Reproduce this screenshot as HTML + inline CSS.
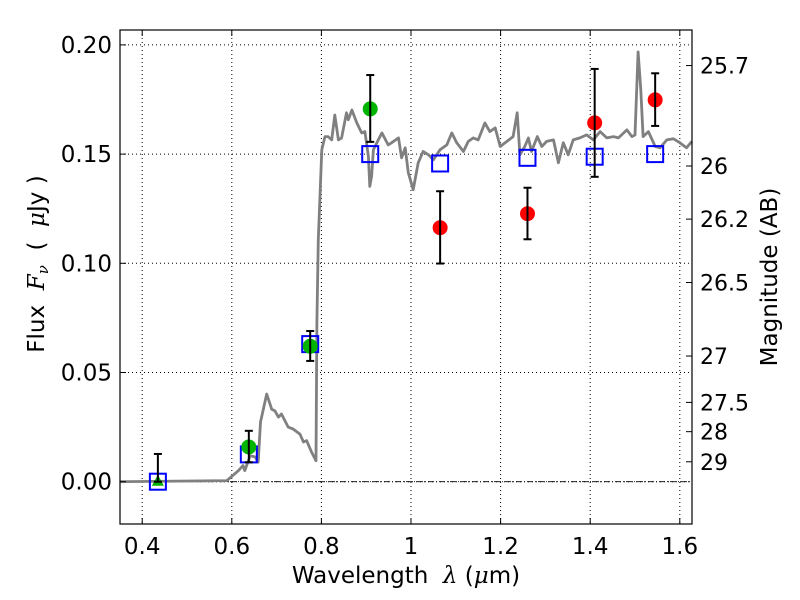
<!DOCTYPE html>
<html><head><meta charset="utf-8"><style>
html,body{margin:0;padding:0;background:#fff;width:800px;height:600px;overflow:hidden}
svg{display:block;font-family:"DejaVu Sans","Liberation Sans",sans-serif}
</style></head><body>
<svg id="chart" width="800" height="600" viewBox="0 0 800 600" xmlns="http://www.w3.org/2000/svg">
<rect x="0" y="0" width="800" height="600" fill="#fff"/>
<g id="grid"></g>
<g id="plot"></g>
<rect x="120" y="30" width="572" height="494" fill="none" stroke="#000" stroke-width="1.2"/>
<g id="axes"></g>
<text x="406" y="583" font-size="23" text-anchor="middle">Wavelength&#160;&#160;<tspan font-style="italic" font-family="DejaVu Serif,serif">λ</tspan>&#160;(<tspan font-style="italic" font-family="DejaVu Serif,serif">μ</tspan>m)</text>
<text transform="translate(44,264) rotate(-90)" font-size="23" text-anchor="middle">Flux&#160;&#160;<tspan font-style="italic" font-family="DejaVu Serif,serif">F<tspan font-size="15" dy="4">ν</tspan></tspan><tspan dy="-4">&#160;&#160;(&#160;&#160;</tspan><tspan font-style="italic" font-family="DejaVu Serif,serif">μ</tspan>Jy&#160;)</text>
<text transform="translate(777,277) rotate(-90)" font-size="23" text-anchor="middle">Magnitude (AB)</text>
</svg>
<script>
const xTicks=[0.4,0.6,0.8,1,1.2,1.4,1.6];
const xTickLabels=["0.4","0.6","0.8","1","1.2","1.4","1.6"];
const yTicks=[0,0.05,0.10,0.15,0.20];
const yTickLabels=["0.00","0.05","0.10","0.15","0.20"];
const magTicks=[25.7,26,26.2,26.5,27,27.5,28,29];
const magTickLabels=["25.7","26","26.2","26.5","27","27.5","28","29"];
const specWave=[0.350,0.589,0.615,0.625,0.629,0.641,0.652,0.659,0.664,0.678,0.689,0.696,0.704,0.711,0.726,0.737,0.752,0.760,0.767,0.778,0.788,0.790,0.793,0.801,0.808,0.815,0.823,0.830,0.838,0.845,0.856,0.860,0.868,0.879,0.890,0.897,0.905,0.908,0.912,0.916,0.927,0.935,0.949,0.957,0.972,0.979,0.987,0.994,1.005,1.016,1.027,1.039,1.050,1.065,1.080,1.091,1.102,1.117,1.128,1.139,1.150,1.165,1.176,1.188,1.199,1.214,1.228,1.237,1.243,1.254,1.262,1.269,1.282,1.292,1.303,1.318,1.329,1.340,1.351,1.362,1.377,1.392,1.407,1.422,1.437,1.452,1.463,1.482,1.493,1.500,1.507,1.513,1.518,1.530,1.545,1.556,1.571,1.586,1.600,1.615,1.627];
const specFlux=[0,0.0005,0.0051,0.0074,0.0051,0.0119,0.0113,0.0090,0.0273,0.0401,0.0332,0.0325,0.0296,0.0310,0.0250,0.0241,0.0218,0.0182,0.0188,0.0136,0.0096,0.0730,0.1109,0.1520,0.1580,0.1580,0.1565,0.1679,0.1565,0.1574,0.1689,0.1657,0.1702,0.1643,0.1597,0.1603,0.1489,0.1352,0.1398,0.1520,0.1565,0.1597,0.1542,0.1552,0.1574,0.1483,0.1529,0.1415,0.1337,0.1460,0.1512,0.1497,0.1474,0.1520,0.1542,0.1597,0.1552,0.1512,0.1558,0.1574,0.1565,0.1643,0.1603,0.1620,0.1535,0.1558,0.1580,0.1689,0.1497,0.1535,0.1574,0.1512,0.1580,0.1535,0.1558,0.1565,0.1460,0.1552,0.1497,0.1565,0.1574,0.1588,0.1565,0.1603,0.1574,0.1580,0.1574,0.1611,0.1580,0.1588,0.1968,0.1794,0.1580,0.1603,0.1535,0.1529,0.1565,0.1570,0.1552,0.1529,0.1558];
const modelWave=[0.435,0.638,0.775,0.909,1.065,1.260,1.410,1.545];
const modelFlux=[0.0,0.0125,0.063,0.150,0.1457,0.1483,0.1488,0.150];
const triWave=[0.435];
const triFlux=[0.0];
const triErrHi=[0.0127];
const triErrLo=[0.0];
const greenWave=[0.638,0.775,0.909];
const greenFlux=[0.0159,0.062,0.1707];
const greenErrHi=[0.0074,0.007,0.0155];
const greenErrLo=[0.007,0.0067,0.0151];
const redWave=[1.065,1.260,1.410,1.545];
const redFlux=[0.1163,0.1227,0.1643,0.1748];
const redErrHi=[0.0167,0.0119,0.0247,0.0122];
const redErrLo=[0.0164,0.0117,0.0247,0.0119];

const NS="http://www.w3.org/2000/svg";
const L=120,R=692,T=30,B=524;
function X(v){return 411+(v-1)*448;}
function Y(v){return 481.7-v*2184;}
function magY(m){return Y(Math.pow(10,(23.9-m)/2.5));}
function mk(tag,attrs,parent){const e=document.createElementNS(NS,tag);for(const k in attrs)e.setAttribute(k,attrs[k]);parent.appendChild(e);return e;}
const grid=document.getElementById('grid'),plot=document.getElementById('plot'),axes=document.getElementById('axes');

xTicks.forEach((t,i)=>{
  const x=X(t);
  const g=mk('line',{x1:x,x2:x,y1:T,y2:B,stroke:'#000','stroke-width':1,'stroke-dasharray':'1,3'},grid);
  
  
  const tk=mk('line',{x1:x,x2:x,y1:B,y2:B-6,stroke:'#000','stroke-width':1},axes);
  
  
  const tk2=mk('line',{x1:x,x2:x,y1:T,y2:T+6,stroke:'#000','stroke-width':1},axes);
  
  
  const tl=mk('text',{x:x,y:B+30,'font-size':23,'text-anchor':'middle'},axes);
  tl.textContent=xTickLabels[i];
  
  
});
yTicks.forEach((t,i)=>{
  const y=Y(t);
  const g=mk('line',{x1:L,x2:R,y1:y,y2:y,stroke:'#000','stroke-width':1,'stroke-dasharray':'1,3'},grid);
  
  
  const tk=mk('line',{x1:L,x2:L+6,y1:y,y2:y,stroke:'#000','stroke-width':1},axes);
  
  
  const tl=mk('text',{x:L-8,y:y+8,'font-size':23,'text-anchor':'end'},axes);
  tl.textContent=yTickLabels[i];
  
  
});
magTicks.forEach((m,i)=>{
  const y=magY(m);
  const tk=mk('line',{x1:R,x2:R-6,y1:y,y2:y,stroke:'#000','stroke-width':1},axes);
  
  
  const tl=mk('text',{x:R+8,y:y+8,'font-size':22,'text-anchor':'start'},axes);
  tl.textContent=magTickLabels[i];
  
  
});
const zl=mk('line',{x1:L,x2:R,y1:Y(0),y2:Y(0),stroke:'#000','stroke-width':0.8,'stroke-dasharray':'6,2,1,2'},plot);



const sp=mk('polyline',{points:specWave.map((w,i)=>X(w).toFixed(1)+','+Y(specFlux[i]).toFixed(1)).join(' '),fill:'none',stroke:'#808080','stroke-width':2.8,'stroke-linejoin':'round'},plot);



modelWave.forEach((w,i)=>{
  const s=mk('rect',{x:X(w)-8,y:Y(modelFlux[i])-8,width:16,height:16,fill:'none',stroke:'#0000ff','stroke-width':2},plot);
  
  
});
function errbar(w,f,hi,lo){
  const x=X(w),y1=Y(f+hi),y2=Y(f-lo);
  const g=mk('g',{},plot);
  
  
  mk('line',{x1:x,x2:x,y1:y1,y2:y2,stroke:'#000','stroke-width':2},g);
  mk('line',{x1:x-4,x2:x+4,y1:y1,y2:y1,stroke:'#000','stroke-width':2},g);
  mk('line',{x1:x-4,x2:x+4,y1:y2,y2:y2,stroke:'#000','stroke-width':2},g);
}
triWave.forEach((w,i)=>{
  const x=X(w),y=Y(triFlux[i]);
  const t=mk('polygon',{points:`${x},${y-7} ${x-6},${y+4} ${x+6},${y+4}`,fill:'#00b000'},plot);
  
  
  errbar(w,triFlux[i],triErrHi[i],triErrLo[i]);
});
greenWave.forEach((w,i)=>{
  const c=mk('circle',{cx:X(w),cy:Y(greenFlux[i]),r:7.5,fill:'#00b400'},plot);
  
  
  errbar(w,greenFlux[i],greenErrHi[i],greenErrLo[i]);
});
redWave.forEach((w,i)=>{
  const c=mk('circle',{cx:X(w),cy:Y(redFlux[i]),r:7.5,fill:'#ff0000'},plot);
  
  
  errbar(w,redFlux[i],redErrHi[i],redErrLo[i]);
});
</script>
</body></html>
